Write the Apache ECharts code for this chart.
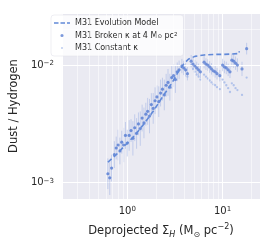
<!DOCTYPE html>
<html><head><meta charset="utf-8">
<script src="https://cdn.jsdelivr.net/npm/echarts@6/dist/echarts.min.js"></script>
<style>html,body{margin:0;padding:0;background:#fff}#c{width:266px;height:244px}</style>
</head><body><div id="c"></div>
<script>
// ---- data ----
const modelX = [0.625,0.765,0.956,1.196,1.495,1.870,2.338,2.924,3.42,3.910,4.37,5.114,6.395,8.0,10.0,12.51,14.95,14.95];
const modelY = [0.00149,0.00173,0.00209,0.00252,0.00316,0.00404,0.00536,0.00699,0.00876,0.01019,0.0112,0.01185,0.01219,0.01231,0.01231,0.01242,0.01254,0.0131];

const pointX = [0.625,0.654,0.684,0.731,0.765,0.800,0.836,0.874,0.915,0.956,1.000,1.046,1.094,1.144,1.196,1.251,1.308,1.368,1.430,1.495,1.564,1.635,1.710,1.788,1.870,1.955,2.045,2.138,2.236,2.338,2.445,2.557,2.674,2.796,2.924,3.058,3.198,3.344,3.497,
  3.740,3.910,4.090,4.277,
  4.677,4.891,5.114,5.348,5.592,5.848,
  6.395,6.687,6.993,7.312,7.646,7.996,8.361,8.743,9.352,
  10.00,10.46,10.94,11.44,11.96,
  12.51,13.08,13.68,14.30,
  15.99,17.88];
const brokenY = [0.00119,0.00110,0.00133,0.00173,0.00197,0.00209,0.00186,0.00221,0.00209,0.00252,0.00217,0.00252,0.00277,0.00238,0.00293,0.00262,0.00316,0.00288,0.00354,0.00322,0.00382,0.00404,0.00368,0.00461,0.00428,0.00497,0.00536,0.00488,0.00578,0.00624,0.00557,0.00673,0.00712,0.00648,0.00782,0.00812,0.00753,0.00876,0.00910,
  0.00981,0.00945,0.00910,0.00844,
  0.01078,0.01019,0.00981,0.00945,0.00910,0.00876,
  0.01058,0.01019,0.01000,0.00963,0.00927,0.00893,0.00876,0.00844,0.00812,
  0.01000,0.00963,0.00945,0.00910,0.00876,
  0.01099,0.01078,0.01038,0.01000,
  0.00927,0.01378];
const constantY = [0.00119,0.00110,0.00133,0.00173,0.00197,0.00209,0.00186,0.00221,0.00209,0.00252,0.00217,0.00252,0.00277,0.00238,0.00293,0.00262,0.00316,0.00288,0.00354,0.00322,0.00382,0.00404,0.00368,0.00461,0.00428,0.00497,0.00536,0.00488,0.00578,0.00624,0.00557,0.00673,0.00712,0.00648,0.00782,0.00812,0.00753,0.00876,0.00910,
  0.00981,0.00945,0.00893,0.00797,
  0.01000,0.00927,0.00876,0.00828,0.00797,0.00753,
  0.00828,0.00797,0.00768,0.00739,0.00712,0.00686,0.00673,0.00648,0.00624,
  0.00753,0.00712,0.00673,0.00636,0.00590,
  0.00699,0.00673,0.00636,0.00612,
  0.00557,0.00782];
// fractional error (upper = y*(1+e), lower = y/(1+e))
const brokenErr = [0.35,0.40,0.30,0.30,0.25,0.35,0.30,0.25,0.40,0.30,0.30,0.35,0.25,0.40,0.30,0.35,0.25,0.40,0.30,0.35,0.25,0.30,0.40,0.25,0.35,0.30,0.25,0.35,0.30,0.25,0.35,0.25,0.30,0.30,0.25,0.25,0.30,0.20,0.20,
  0.15,0.15,0.14,0.14,
  0.13,0.13,0.13,0.13,0.13,0.13,
  0.13,0.12,0.12,0.12,0.12,0.12,0.12,0.12,0.12,
  0.13,0.13,0.13,0.13,0.13,
  0.14,0.14,0.14,0.14,
  0.15,0.12];

const xTickValues = [1, 10];
const yTickValues = [0.001, 0.01];
const xMinorGrid = [0.3,0.4,0.5,0.6,0.7,0.8,0.9,2,3,4,5,6,7,8,9,20];
const yMinorGrid = [0.0008,0.0009,0.002,0.003,0.004,0.005,0.006,0.007,0.008,0.009,0.02];

const legendNames = ['M31 Evolution Model','M31 Broken κ at 4 M⊙ pc²','M31 Constant κ'];

// ---- chart ----
const FONT = 'DejaVu Sans';
const TXT = '#262626';
const chart = echarts.init(document.getElementById('c'), null, {renderer:'canvas'});
const sup = (s) => '{sup|' + s + '}';
function tickFmt(v){
  const l = Math.log10(v);
  if (Math.abs(l - Math.round(l)) > 1e-6) return '';
  const e = Math.round(l);
  return '10' + sup(String(e).replace('-', '−'));
}
const richTick = {sup:{fontSize:7, lineHeight:7, verticalAlign:'top', fontFamily:FONT, color:TXT}};

const minorLines = xMinorGrid.map(v => ({xAxis: v})).concat(yMinorGrid.map(v => ({yAxis: v})));

chart.setOption({
  animation:false,
  backgroundColor:'#ffffff',
  grid:{left:48, right:6, top:13, bottom:38, show:true, backgroundColor:'#eaeaf2', borderWidth:0},
  legend:{
    orient:'vertical', left:51, top:15,
    padding:[4,6,4,3], itemGap:4.5, itemWidth:16, itemHeight:8,
    backgroundColor:'rgba(255,255,255,0.8)', borderRadius:3, borderColor:'#dddde6', borderWidth:0.5,
    textStyle:{fontSize:8, fontFamily:FONT, color:TXT,
      rich:{sub:{fontSize:5.5, lineHeight:6, verticalAlign:'bottom', fontFamily:FONT, color:TXT},
            sup:{fontSize:5.5, lineHeight:6, verticalAlign:'top', fontFamily:FONT, color:TXT}}},
    formatter: function(name){
      if (name === legendNames[1]) return 'M31 Broken κ at 4 M{sub|⊙} pc{sup|2}';
      return name;
    },
    data:[
      {name:legendNames[0], icon:'path://M0,0M16,8M0,3.2h4.5v1.6h-4.5zM6.5,3.2h4.5v1.6h-4.5zM13,3.2h3v1.6h-3z', itemStyle:{color:'#6189d8'}},
      {name:legendNames[1], icon:'path://M0,0M16,8M6.4,4A1.6,1.6 0 1,0 9.6,4A1.6,1.6 0 1,0 6.4,4Z'},
      {name:legendNames[2], icon:'path://M0,0M16,8M7.1,4A0.9,0.9 0 1,0 8.9,4A0.9,0.9 0 1,0 7.1,4Z'}
    ]
  },
  xAxis:{
    type:'log', logBase:10, min:0.206, max:24.7,
    name:'Deprojected Σ{sub|H} (M{sub2|⊙} pc{sup|−2})', nameLocation:'middle', nameGap:24,
    nameTextStyle:{fontSize:11.5, fontFamily:FONT, color:TXT, lineHeight:16,
      rich:{sub:{fontSize:8, lineHeight:9, verticalAlign:'bottom', fontStyle:'italic', fontFamily:FONT, color:TXT},
            sub2:{fontSize:8, lineHeight:9, verticalAlign:'bottom', fontFamily:FONT, color:TXT},
            sup:{fontSize:8, lineHeight:9, verticalAlign:'top', fontFamily:FONT, color:TXT}}},
    axisLine:{show:false}, axisTick:{show:false},
    axisLabel:{formatter:tickFmt, fontSize:10, fontFamily:FONT, color:TXT, margin:7, rich:richTick, showMinLabel:false, showMaxLabel:false},
    splitLine:{show:true, lineStyle:{color:'#ffffff', width:1}}
  },
  yAxis:{
    type:'log', logBase:10, min:0.000726, max:0.0277,
    name:'Dust / Hydrogen', nameLocation:'middle', nameGap:35,
    nameTextStyle:{fontSize:11.5, fontFamily:FONT, color:TXT},
    axisLine:{show:false}, axisTick:{show:false},
    axisLabel:{formatter:tickFmt, fontSize:10, fontFamily:FONT, color:TXT, margin:8, rich:richTick, showMinLabel:false, showMaxLabel:false},
    splitLine:{show:true, lineStyle:{color:'#ffffff', width:1}}
  },
  series:[
    {type:'line', name:'_grid', data:[], silent:true, z:1,
      markLine:{silent:true, symbol:'none', label:{show:false}, animation:false,
        lineStyle:{color:'#ffffff', width:0.6, type:'solid', opacity:0.9}, data:minorLines}},
    {type:'custom', name:'_err', z:2, silent:true,
      data: pointX.map((x,i) => [x, brokenY[i]/(1+brokenErr[i]), brokenY[i]*(1+brokenErr[i])]),
      encode:{x:0, y:[1,2]},
      renderItem:function(params, api){
        const a = api.coord([api.value(0), api.value(1)]);
        const b = api.coord([api.value(0), api.value(2)]);
        return {type:'line', shape:{x1:a[0], y1:a[1], x2:b[0], y2:b[1]},
          style:{stroke:'rgba(120,150,220,0.35)', lineWidth:1}};
      }},
    {type:'line', name:legendNames[0], z:6, symbol:'none',
      data: modelX.map((x,i) => [x, modelY[i]]),
      lineStyle:{color:'#6189d8', width:1.6, type:[5,3]}, itemStyle:{color:'#6189d8'}},
    {type:'scatter', name:legendNames[2], z:3, symbolSize:2.3,
      data: pointX.map((x,i) => [x, constantY[i]]),
      itemStyle:{color:'#a3b8e8'}},
    {type:'scatter', name:legendNames[1], z:5, symbolSize:3.2,
      data: pointX.map((x,i) => [x, brokenY[i]]),
      itemStyle:{color:'#5b80d3', opacity:0.8}}
  ]
});
</script></body></html>
